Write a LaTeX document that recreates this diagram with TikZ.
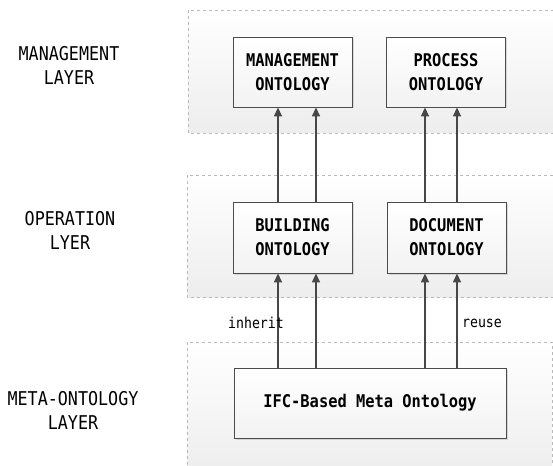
\documentclass[tikz,border=0pt]{standalone}
\usepackage{fontspec}
\newfontfamily\layerfont[FakeStretch=0.88]{DejaVu Sans Mono}
\usetikzlibrary{arrows.meta}
\usetikzlibrary{shadows}
\usetikzlibrary{positioning}

\tikzset{
  panel/.style={draw=gray!55, dashed, line width=0.5pt, top color=white, bottom color=gray!14},
  onto/.style={draw=black!70, line width=0.8pt, top color=white, bottom color=gray!10,
    minimum width=119pt, minimum height=70pt, align=center,
    font=\layerfont\bfseries\fontsize{17.5}{24}\selectfont,
    drop shadow={shadow xshift=1.5pt, shadow yshift=-1.5pt, opacity=0.25}},
  layer/.style={align=center, font=\layerfont\fontsize{19}{24}\selectfont},
  relation/.style={font=\layerfont\fontsize{15}{16}\selectfont},
  link/.style={draw=black!72, line width=1.3pt, -{Triangle[length=9pt,width=8pt]}}
}

\begin{document}
\begin{tikzpicture}[x=1pt,y=-1pt]
  \clip (0,0) rectangle (553,465);
  \fill[white] (0,0) rectangle (553,465);

  % layer panels
  \path[panel] (188,10) rectangle (560,133);
  \path[panel] (187,175) rectangle (560,297);
  \path[panel] (187,342) rectangle (552,475);

  % layer names
  \node[layer] (mgmtlayer) at (69,65) {MANAGEMENT\\LAYER};
  \node[layer] (operlayer) at (70,230) {OPERATION\\LYER};
  \node[layer] (metalayer) at (73,410) {META-ONTOLOGY\\LAYER};

  % ontologies
  \node[onto] (mgmt) at (292.5,72) {MANAGEMENT\\ONTOLOGY};
  \node[onto] (proc) at (446,72) {PROCESS\\ONTOLOGY};
  \node[onto, minimum height=71pt] (bldg) at (292.5,237.5) {BUILDING\\ONTOLOGY};
  \node[onto, minimum height=71pt] (doc) at (446.5,237.5) {DOCUMENT\\ONTOLOGY};
  \node[onto, minimum width=272pt] (ifc) at (370,403) {IFC-Based Meta Ontology};

  % arrow columns
  \coordinate (c1) at (278,0);
  \coordinate (c2) at (316,0);
  \coordinate (c3) at (425,0);
  \coordinate (c4) at (457,0);
  \foreach \c in {c1,c2}{
    \draw[link] (ifc.north -| \c) -- (bldg.south -| \c);
    \draw[link] (bldg.north -| \c) -- (mgmt.south -| \c);
  }
  \foreach \c in {c3,c4}{
    \draw[link] (ifc.north -| \c) -- (doc.south -| \c);
    \draw[link] (doc.north -| \c) -- (proc.south -| \c);
  }

  \node[relation] (inherit) at (256,323) {inherit};
  \node[relation] (reuse) at (482,323) {reuse};
\end{tikzpicture}
\end{document}
